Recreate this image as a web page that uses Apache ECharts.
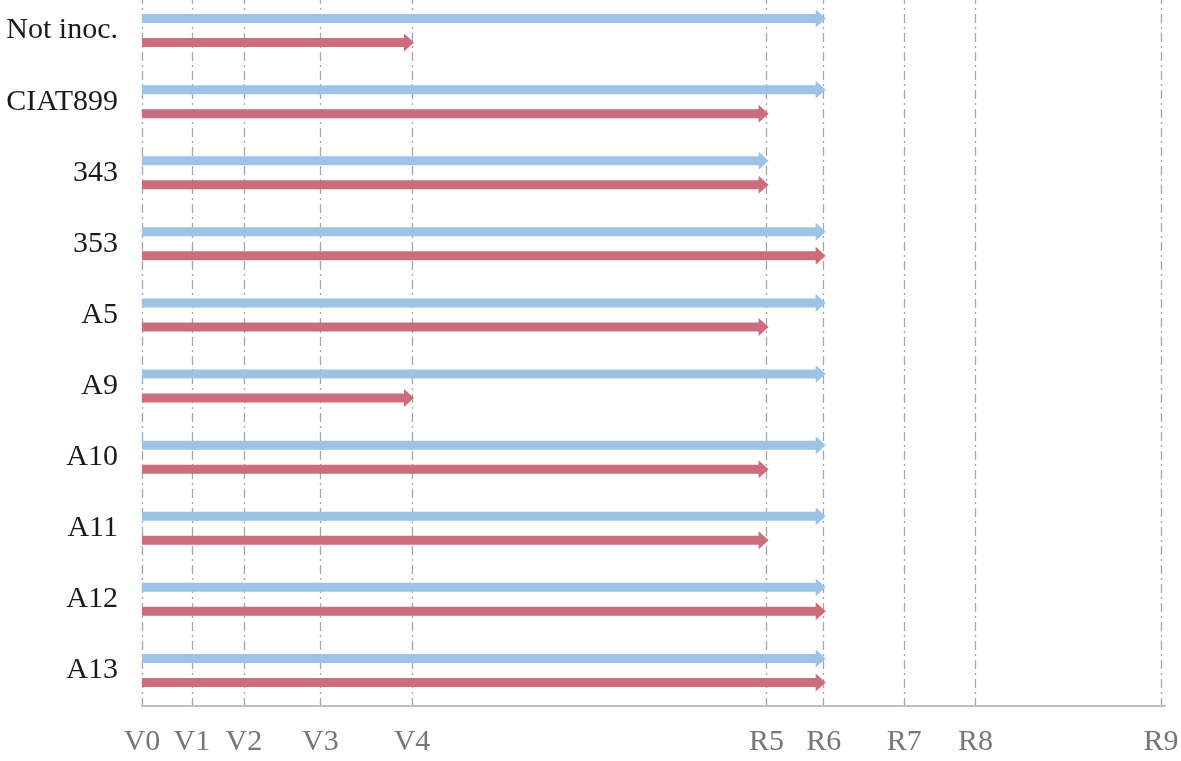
<!DOCTYPE html>
<html>
<head>
<meta charset="utf-8">
<script src="https://cdn.jsdelivr.net/npm/echarts@6/dist/echarts.min.js"></script>
<style>
html,body{margin:0;padding:0;background:#fff;}
#chart{width:1181px;height:761px;}
</style>
</head>
<body>
<div id="chart"></div>
<script>
// treatments, top to bottom
var treatments = ['Not inoc.', 'CIAT899', '343', '353', 'A5', 'A9', 'A10', 'A11', 'A12', 'A13'];
// growth stages and where they sit along the axis
var stageNames = ['V0', 'V1', 'V2', 'V3', 'V4', 'R5', 'R6', 'R7', 'R8', 'R9'];
var stagePos = [0, 4.9, 10, 17.5, 26.5, 61.3, 66.9, 74.8, 81.8, 100];
// last stage reached by each treatment
var blueEnd = ['R6', 'R6', 'R5', 'R6', 'R6', 'R6', 'R6', 'R6', 'R6', 'R6'];
var redEnd = ['V4', 'R5', 'R5', 'R6', 'R5', 'V4', 'R5', 'R5', 'R6', 'R6'];

var chart = echarts.init(document.getElementById('chart'));

function stageValue(name) {
	return stagePos[stageNames.indexOf(name)];
}

function arrowSeries(name, ends, color, shift) {
	var data = [];
	for (var i = 0; i < ends.length; i++) {
		data.push([stageValue(ends[i]), i]);
	}
	return {
		name: name,
		type: 'custom',
		silent: true,
		data: data,
		encode: {x: 0, y: 1},
		renderItem: function(params, api) {
			var cat = api.value(1);
			var p0 = api.coord([0, cat]);
			var p1 = api.coord([api.value(0), cat]);
			var y = p0[1] + shift;
			var x0 = p0[0], xe = p1[0] + 2;
			var hl = 10, sh = 4.5, hh = 9;
			return {
				type: 'polygon',
				shape: {
					points: [
						[x0, y - sh], [xe - hl, y - sh], [xe - hl, y - hh], [xe, y],
						[xe - hl, y + hh], [xe - hl, y + sh], [x0, y + sh]
					]
				},
				style: {fill: color}
			};
		}
	};
}

var option = {
	animation: false,
	grid: {left: 142, right: 16, top: -5, bottom: 55, outerBoundsMode: 'none'},
	xAxis: {
		type: 'value',
		min: 0,
		max: 100.4,
		axisLine: {show: true, lineStyle: {color: '#bfbfbf', width: 2}},
		axisTick: {show: false, customValues: stagePos},
		axisLabel: {
			customValues: stagePos,
			margin: 21,
			color: '#767676',
			fontFamily: 'Liberation Serif',
			fontSize: 30,
			formatter: function(v) {
				var i = stagePos.indexOf(v);
				return i >= 0 ? stageNames[i] : '';
			}
		},
		splitLine: {
			show: true,
			lineStyle: {color: '#a6a6a6', width: 1.3, type: [9, 4, 2, 4]}
		}
	},
	yAxis: {
		type: 'category',
		inverse: true,
		data: treatments,
		axisLine: {show: false},
		axisTick: {show: false},
		splitLine: {show: false},
		axisLabel: {
			margin: 24,
			color: '#1a1a1a',
			fontFamily: 'Liberation Serif',
			fontSize: 30,
			padding: [0, 0, 12, 0]
		}
	},
	series: [
		arrowSeries('blue', blueEnd, '#9dc3e6', -12),
		arrowSeries('red', redEnd, '#cb6d7d', 12)
	]
};

chart.setOption(option);
</script>
</body>
</html>
